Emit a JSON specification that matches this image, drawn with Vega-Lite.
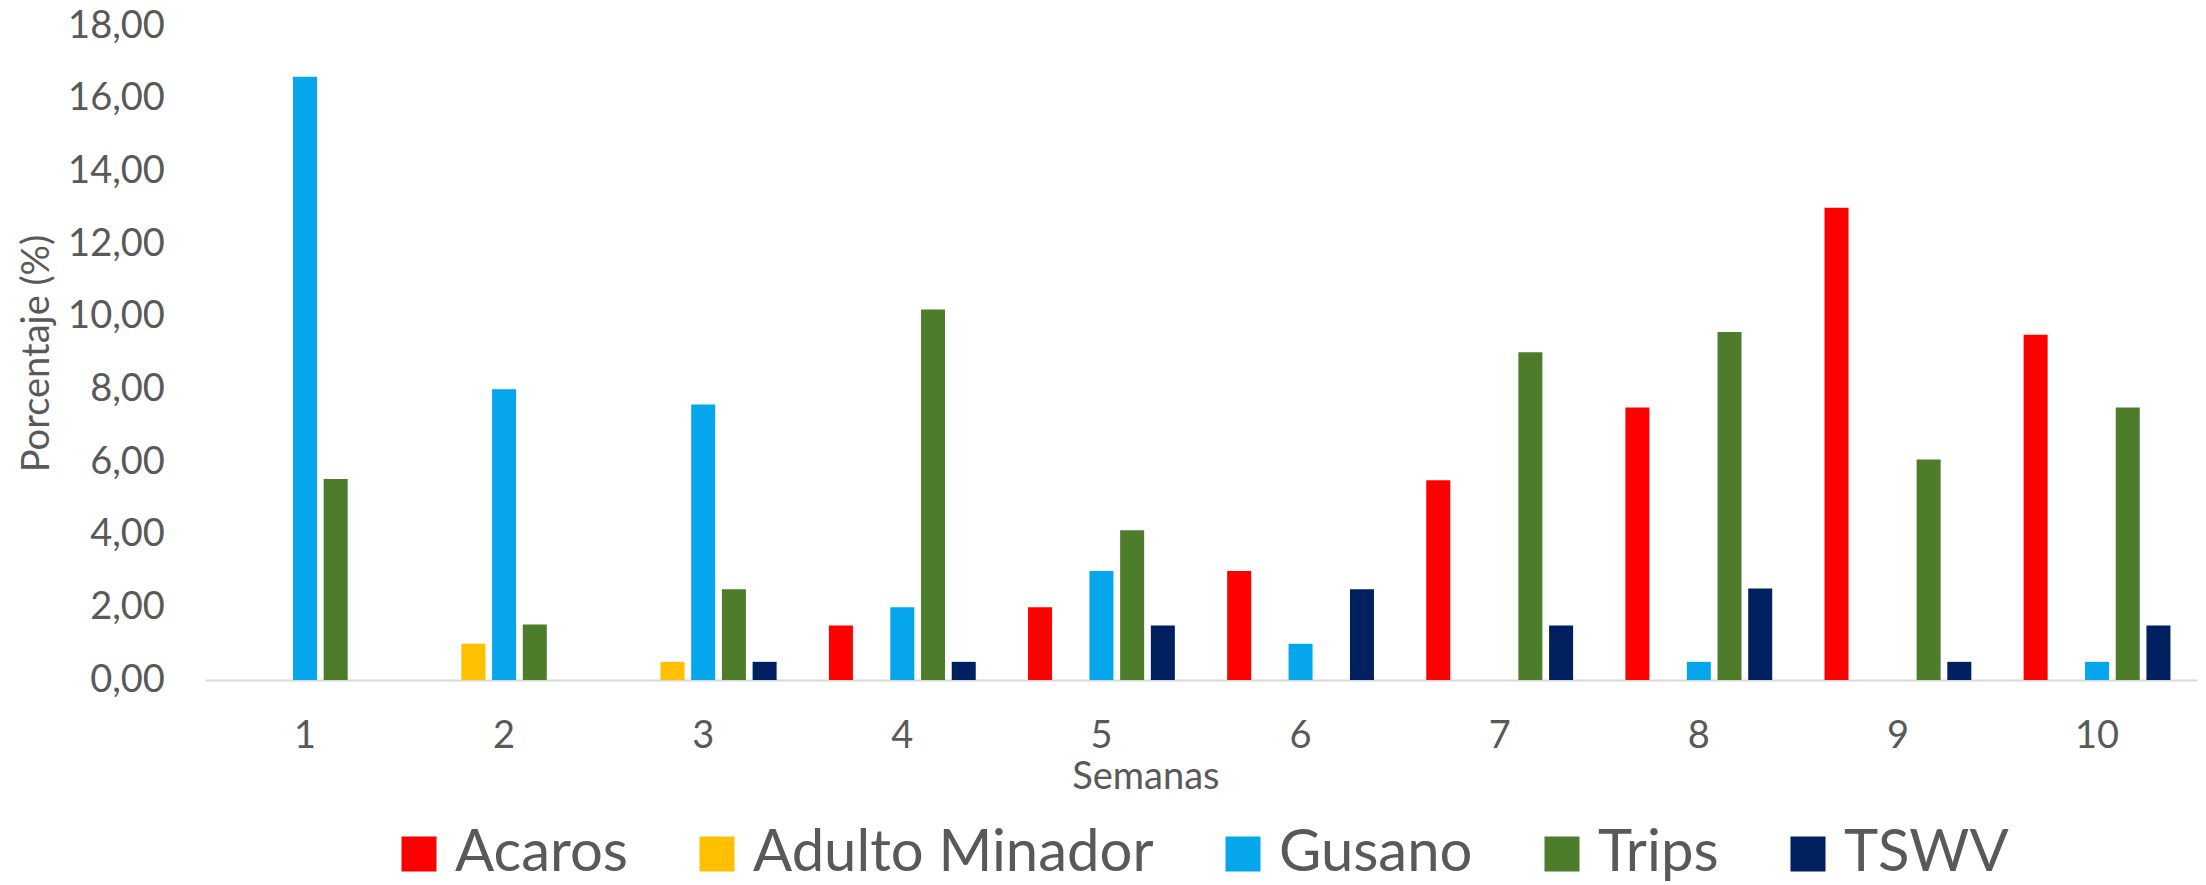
{
  "$schema": "https://vega.github.io/schema/vega-lite/v6.json",
  "autosize": {"type": "none"},
  "width": 1991.2,
  "height": 654,
  "padding": {"left": 205.4, "top": 26, "right": 9.4, "bottom": 205},
  "background": "white",
  "config": {
    "font": "Lato",
    "view": {"stroke": null},
    "axis": {"labelColor": "#595959", "titleColor": "#595959", "grid": false, "titleFontWeight": "normal"},
    "legend": {"labelColor": "#595959"}
  },
  "data": {
    "values": [
      {"Semana": 1, "Plaga": "Acaros", "Porcentaje": 0},
      {"Semana": 1, "Plaga": "Adulto Minador", "Porcentaje": 0},
      {"Semana": 1, "Plaga": "Gusano", "Porcentaje": 16.6},
      {"Semana": 1, "Plaga": "Trips", "Porcentaje": 5.53},
      {"Semana": 1, "Plaga": "TSWV", "Porcentaje": 0},
      {"Semana": 2, "Plaga": "Acaros", "Porcentaje": 0},
      {"Semana": 2, "Plaga": "Adulto Minador", "Porcentaje": 1},
      {"Semana": 2, "Plaga": "Gusano", "Porcentaje": 8},
      {"Semana": 2, "Plaga": "Trips", "Porcentaje": 1.53},
      {"Semana": 2, "Plaga": "TSWV", "Porcentaje": 0},
      {"Semana": 3, "Plaga": "Acaros", "Porcentaje": 0},
      {"Semana": 3, "Plaga": "Adulto Minador", "Porcentaje": 0.5},
      {"Semana": 3, "Plaga": "Gusano", "Porcentaje": 7.58},
      {"Semana": 3, "Plaga": "Trips", "Porcentaje": 2.5},
      {"Semana": 3, "Plaga": "TSWV", "Porcentaje": 0.5},
      {"Semana": 4, "Plaga": "Acaros", "Porcentaje": 1.5},
      {"Semana": 4, "Plaga": "Adulto Minador", "Porcentaje": 0},
      {"Semana": 4, "Plaga": "Gusano", "Porcentaje": 2},
      {"Semana": 4, "Plaga": "Trips", "Porcentaje": 10.2},
      {"Semana": 4, "Plaga": "TSWV", "Porcentaje": 0.5},
      {"Semana": 5, "Plaga": "Acaros", "Porcentaje": 2},
      {"Semana": 5, "Plaga": "Adulto Minador", "Porcentaje": 0},
      {"Semana": 5, "Plaga": "Gusano", "Porcentaje": 3},
      {"Semana": 5, "Plaga": "Trips", "Porcentaje": 4.12},
      {"Semana": 5, "Plaga": "TSWV", "Porcentaje": 1.5},
      {"Semana": 6, "Plaga": "Acaros", "Porcentaje": 3},
      {"Semana": 6, "Plaga": "Adulto Minador", "Porcentaje": 0},
      {"Semana": 6, "Plaga": "Gusano", "Porcentaje": 1},
      {"Semana": 6, "Plaga": "Trips", "Porcentaje": 0},
      {"Semana": 6, "Plaga": "TSWV", "Porcentaje": 2.5},
      {"Semana": 7, "Plaga": "Acaros", "Porcentaje": 5.5},
      {"Semana": 7, "Plaga": "Adulto Minador", "Porcentaje": 0},
      {"Semana": 7, "Plaga": "Gusano", "Porcentaje": 0},
      {"Semana": 7, "Plaga": "Trips", "Porcentaje": 9.02},
      {"Semana": 7, "Plaga": "TSWV", "Porcentaje": 1.5},
      {"Semana": 8, "Plaga": "Acaros", "Porcentaje": 7.5},
      {"Semana": 8, "Plaga": "Adulto Minador", "Porcentaje": 0},
      {"Semana": 8, "Plaga": "Gusano", "Porcentaje": 0.5},
      {"Semana": 8, "Plaga": "Trips", "Porcentaje": 9.58},
      {"Semana": 8, "Plaga": "TSWV", "Porcentaje": 2.52},
      {"Semana": 9, "Plaga": "Acaros", "Porcentaje": 13},
      {"Semana": 9, "Plaga": "Adulto Minador", "Porcentaje": 0},
      {"Semana": 9, "Plaga": "Gusano", "Porcentaje": 0},
      {"Semana": 9, "Plaga": "Trips", "Porcentaje": 6.07},
      {"Semana": 9, "Plaga": "TSWV", "Porcentaje": 0.5},
      {"Semana": 10, "Plaga": "Acaros", "Porcentaje": 9.5},
      {"Semana": 10, "Plaga": "Adulto Minador", "Porcentaje": 0},
      {"Semana": 10, "Plaga": "Gusano", "Porcentaje": 0.5},
      {"Semana": 10, "Plaga": "Trips", "Porcentaje": 7.5},
      {"Semana": 10, "Plaga": "TSWV", "Porcentaje": 1.5}
    ]
  },
  "mark": {"type": "bar"},
  "encoding": {
    "x": {
      "field": "Semana",
      "type": "ordinal",
      "scale": {"paddingInner": 0.229, "paddingOuter": 0.1145},
      "axis": {
        "title": "Semanas",
        "labelAngle": 0,
        "labelFontSize": 38,
        "labelBaseline": "middle",
        "labelPadding": 56,
        "ticks": false,
        "tickSize": 0,
        "domainColor": "#D9D9D9",
        "domainWidth": 2,
        "titleFontSize": 38,
        "titleBaseline": "middle",
        "titleX": 940,
        "titleY": 97.5
      }
    },
    "xOffset": {
      "field": "Plaga",
      "type": "nominal",
      "sort": ["Acaros", "Adulto Minador", "Gusano", "Trips", "TSWV"],
      "scale": {"paddingInner": 0.218, "paddingOuter": 0.109}
    },
    "y": {
      "field": "Porcentaje",
      "type": "quantitative",
      "scale": {"domain": [0, 18], "nice": false},
      "axis": {
        "title": "Porcentaje (%)",
        "values": [0, 2, 4, 6, 8, 10, 12, 14, 16, 18],
        "labelExpr": "replace(format(datum.value, '.2f'), '.', ',')",
        "labelFontSize": 38,
        "labelPadding": 41,
        "ticks": false,
        "tickSize": 0,
        "domain": false,
        "titleFontSize": 38,
        "titleBaseline": "middle",
        "titleX": -168,
        "titleY": 327
      }
    },
    "color": {
      "field": "Plaga",
      "type": "nominal",
      "sort": ["Acaros", "Adulto Minador", "Gusano", "Trips", "TSWV"],
      "scale": {
        "domain": ["Acaros", "Adulto Minador", "Gusano", "Trips", "TSWV"],
        "range": ["#FF0000", "#FFC000", "#05A6EC", "#4D7C2B", "#002060"]
      },
      "legend": {
        "title": null,
        "orient": "none",
        "direction": "horizontal",
        "legendX": 184.6,
        "legendY": 799,
        "padding": 0,
        "symbolType": "square",
        "symbolSize": 1225,
        "symbolStrokeWidth": 0,
        "symbolOpacity": 1,
        "labelFontSize": 58,
        "labelOffset": 7,
        "columnPadding": 60,
        "labelLimit": 1000
      }
    }
  }
}
